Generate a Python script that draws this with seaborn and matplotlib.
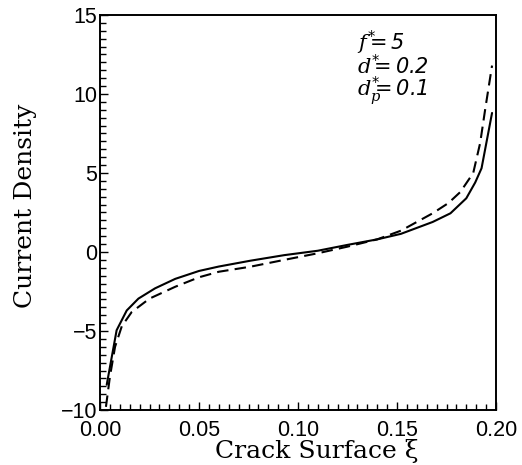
import numpy as np
import pandas as pd
import matplotlib
matplotlib.use("Agg")
import matplotlib.pyplot as plt
from matplotlib.ticker import MultipleLocator
import seaborn as sns

# Current density along the crack surface, two solutions
xi_solid = [0.0034, 0.0084, 0.0135, 0.0194, 0.0278, 0.038, 0.05, 0.06, 0.076,
            0.093, 0.11, 0.125, 0.14, 0.152, 0.168, 0.177, 0.185, 0.1895,
            0.1927, 0.198]
j_solid = [-8.4, -4.95, -3.7, -2.95, -2.3, -1.7, -1.2, -0.92, -0.55, -0.2,
           0.08, 0.45, 0.8, 1.15, 1.9, 2.45, 3.4, 4.4, 5.3, 8.8]

xi_dashed = [0.003, 0.005, 0.0076, 0.011, 0.016, 0.025, 0.038, 0.05, 0.06,
             0.076, 0.093, 0.11, 0.125, 0.14, 0.152, 0.168, 0.176, 0.182,
             0.1885, 0.192, 0.1945, 0.198]
j_dashed = [-9.8, -7.9, -6.0, -4.7, -3.8, -2.95, -2.2, -1.6, -1.25, -0.93,
            -0.5, -0.08, 0.34, 0.8, 1.35, 2.45, 3.1, 3.8, 5.0, 6.9, 9.0, 11.8]

x_ticks = [0.00, 0.05, 0.10, 0.15, 0.20]
x_tick_labels = ["0.00", "0.05", "0.10", "0.15", "0.20"]
y_ticks = [-10, -5, 0, 5, 10, 15]
y_tick_labels = ["\u221210", "\u22125", "0", "5", "10", "15"]

params = [r"$f^{*}\!\!\!=5$", r"$d^{*}\!\!\!=0.2$", r"$d_p^{*}\!\!\!=0.1$"]
param_y = [0.912, 0.851, 0.793]

sns.set_style("ticks")
plt.rcParams["font.family"] = ["Liberation Sans", "DejaVu Sans"]
plt.rcParams["mathtext.fontset"] = "custom"
plt.rcParams["mathtext.it"] = "DejaVu Serif:italic"
plt.rcParams["mathtext.rm"] = "DejaVu Sans:oblique"
plt.rcParams["mathtext.default"] = "it"

fig = plt.figure(figsize=(5.22, 4.65), dpi=100)
ax = fig.add_axes([100 / 522, 1 - 410 / 465, 396 / 522, 395 / 465])

df_s = pd.DataFrame({"xi": xi_solid, "j": j_solid})
df_d = pd.DataFrame({"xi": xi_dashed, "j": j_dashed})
sns.lineplot(data=df_s, x="xi", y="j", ax=ax, color="black", lw=1.5,
             estimator=None)
sns.lineplot(data=df_d, x="xi", y="j", ax=ax, color="black", lw=1.5,
             estimator=None, dashes=False, linestyle=(0, (5.5, 3.0)))

ax.set_xlim(0, 0.2)
ax.set_ylim(-10, 15)
ax.set_xticks(x_ticks)
ax.set_xticklabels(x_tick_labels)
ax.set_yticks(y_ticks)
ax.set_yticklabels(y_tick_labels)
ax.xaxis.set_minor_locator(MultipleLocator(0.005))
ax.yaxis.set_minor_locator(MultipleLocator(0.5))
ax.tick_params(which="both", direction="in", top=False, right=False,
               width=1.0, color="black", labelsize=15.5, labelcolor="black")
ax.tick_params(which="major", length=6)
ax.tick_params(which="minor", length=4)
ax.tick_params(axis="x", which="major", pad=7.5)
ax.tick_params(axis="y", which="major", pad=2)

for sp in ax.spines.values():
    sp.set_visible(True)
    sp.set_linewidth(1.4)
    sp.set_color("black")

label_font = dict(family="DejaVu Serif", size=18, color="black")
ax.set_xlabel("Crack Surface \u03be", **label_font)
ax.set_ylabel("Current Density", **label_font)
ax.xaxis.set_label_coords(0.548, -0.074)
ax.yaxis.set_label_coords(-0.16, 0.516)

for s, yy in zip(params, param_y):
    ax.text(0.648, yy, s, transform=ax.transAxes,
            fontsize=15, color="black", va="baseline", ha="left")

fig.savefig("out.png", dpi=100, facecolor="white")
